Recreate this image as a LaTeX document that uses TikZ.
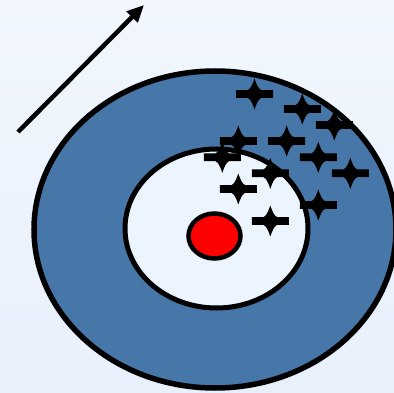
\documentclass[tikz,border=0pt]{standalone}
\usetikzlibrary{arrows.meta}
\definecolor{bgA}{RGB}{242,247,254}
\definecolor{bgB}{RGB}{232,240,251}
\definecolor{ringblue}{RGB}{70,119,168}
\definecolor{innerfill}{RGB}{236,244,253}
\tikzset{
  ring/.style={fill=ringblue,draw=black,line width=5.5pt},
  hole/.style={fill=innerfill,draw=black,line width=5pt},
  core/.style={fill=red,draw=black,line width=4.5pt},
  fourstar/.pic={
    \fill[black] (0,15.5) .. controls (2.2,9) and (4,5) .. (7,3.8) -- (18.5,3.8) -- (18.5,-3.8) -- (7,-3.8)
      .. controls (4,-5) and (2.2,-9) .. (0,-15.5) .. controls (-2.2,-9) and (-4,-5) .. (-7,-3.8)
      -- (-18.5,-3.8) -- (-18.5,3.8) -- (-7,3.8) .. controls (-4,5) and (-2.2,9) .. cycle;
  }
}
\begin{document}
\begin{tikzpicture}[x=1pt,y=-1pt]
\useasboundingbox (0,0) rectangle (394,393);
\shade[top color=bgA,bottom color=bgB] (0,0) rectangle (394,393);
\path[ring] (215,229.5) ellipse [x radius=181,y radius=158.5];
\path[hole] (216.5,228.5) ellipse [x radius=91.5,y radius=79.5];
\path[core] (214.5,236) ellipse [x radius=26,y radius=22.5];
\foreach \sx/\sy in {254.5/94, 302.3/109, 334.3/125, 238.3/141, 286.7/141, 318.3/157.3,
  222.3/157.3, 270.3/173.3, 350.3/173.3, 238.3/189, 318.3/205, 270.3/221}
  \pic at (\sx,\sy) {fourstar};
\coordinate (tail) at (18,132);
\coordinate (tip) at (144,5);
\draw[line width=4.5pt,-{Triangle[length=17pt,width=15pt]}] (tail) -- (tip);
\end{tikzpicture}
\end{document}
